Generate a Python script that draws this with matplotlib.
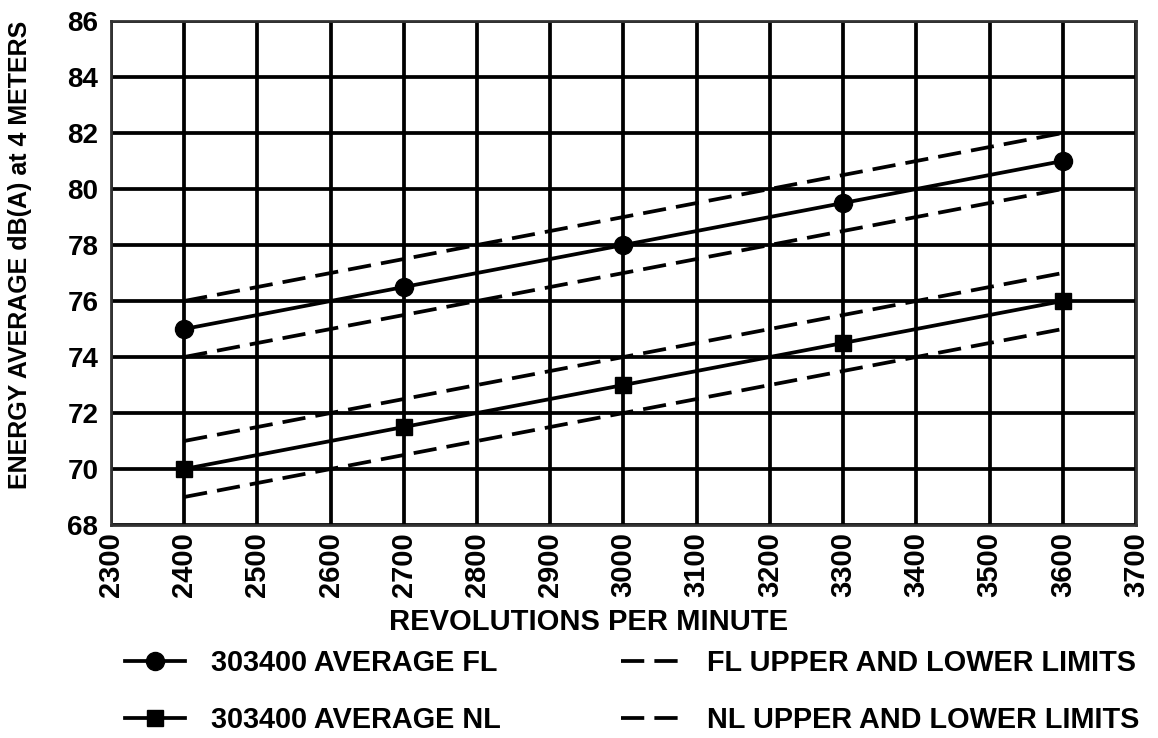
import matplotlib
matplotlib.use("Agg")
import matplotlib.pyplot as plt

rpm = [2400, 2700, 3000, 3300, 3600]
fl_avg = [75.0, 76.5, 78.0, 79.5, 81.0]
nl_avg = [70.0, 71.5, 73.0, 74.5, 76.0]
limit_x = [2400, 3600]
fl_upper = [76.0, 82.0]
fl_lower = [74.0, 80.0]
nl_upper = [71.0, 77.0]
nl_lower = [69.0, 75.0]

x_ticks = list(range(2300, 3701, 100))
y_ticks = list(range(68, 87, 2))

plt.rcParams['font.family'] = ['Liberation Sans', 'DejaVu Sans']
plt.rcParams['font.weight'] = 'bold'

W, H = 1158, 738
fig = plt.figure(figsize=(W / 100, H / 100), dpi=100)
L, R, T, B = 111, 1136, 21, 525
ax = fig.add_axes([L / W, 1 - B / H, (R - L) / W, (B - T) / H])

ax.set_xlim(2300, 3700)
ax.set_ylim(68, 86)
ax.set_xticks(x_ticks)
ax.set_yticks(y_ticks)
ax.set_xticklabels([str(t) for t in x_ticks], rotation=90, fontsize=21, fontweight='bold')
ax.set_yticklabels([str(t) for t in y_ticks], fontsize=20, fontweight='bold')
ax.tick_params(axis='x', length=0, pad=5)
ax.tick_params(axis='y', length=0, pad=9)
ax.grid(True, color='black', linewidth=2.7)
ax.set_axisbelow(True)
for s in ax.spines.values():
    s.set_linewidth(2.0)
    s.set_color('#333333')

lw = 2.7
dash = (6.2, 2.7)
h1, = ax.plot(rpm, fl_avg, color='black', lw=lw, marker='o', markersize=13,
              label='303400 AVERAGE FL', zorder=5)
h2, = ax.plot(rpm, nl_avg, color='black', lw=lw, marker='s', markersize=11.5,
              label='303400 AVERAGE NL', zorder=5)
h3, = ax.plot(limit_x, fl_upper, color='black', lw=lw, dashes=dash,
              label='FL UPPER AND LOWER LIMITS', zorder=4)
ax.plot(limit_x, fl_lower, color='black', lw=lw, dashes=dash, zorder=4)
h4, = ax.plot(limit_x, nl_upper, color='black', lw=lw, dashes=dash,
              label='NL UPPER AND LOWER LIMITS', zorder=4)
ax.plot(limit_x, nl_lower, color='black', lw=lw, dashes=dash, zorder=4)

ax.set_xlabel('REVOLUTIONS PER MINUTE', fontsize=21, fontweight='bold', va='center')
ax.xaxis.set_label_coords((589 - L) / (R - L), (B - 622) / (B - T))
ax.set_ylabel('ENERGY AVERAGE dB(A) at 4 METERS', fontsize=18, fontweight='bold', va='center')
ax.yaxis.set_label_coords((20 - L) / (R - L), (B - 255) / (B - T))

fs = 20.8
px = fs * 100 / 72
leg = fig.legend(handles=[h1, h2, h3, h4], ncol=2, loc='upper left',
                 bbox_to_anchor=(125 / W, 1 - 649 / H), frameon=False,
                 prop={'size': fs, 'weight': 'bold'},
                 handlelength=60 / px, handletextpad=26 / px, columnspacing=120 / px,
                 labelspacing=1.0, borderpad=0, borderaxespad=0)

fig.savefig('out.png', dpi=100)
